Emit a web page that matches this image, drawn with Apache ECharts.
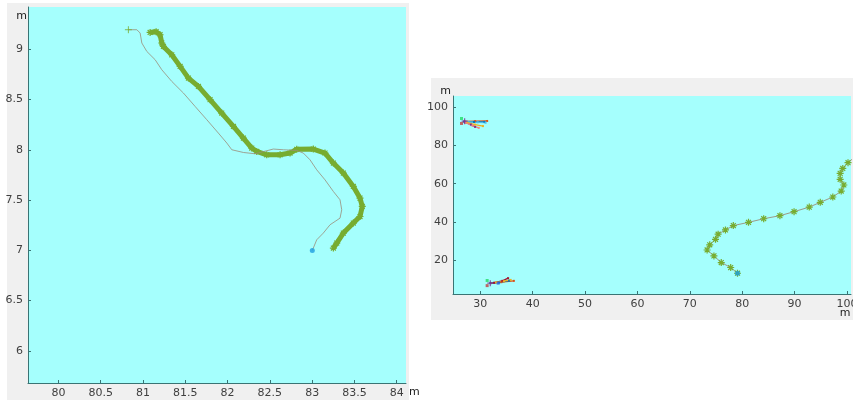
<!DOCTYPE html>
<html>
<head>
<meta charset="utf-8">
<script src="https://cdn.jsdelivr.net/npm/echarts@6/dist/echarts.min.js"></script>
<style>
  html, body { margin: 0; padding: 0; background: #ffffff; }
  #chart { width: 853px; height: 403px; }
</style>
</head>
<body>
<div id="chart"></div>
<script>
// ---- Left view: close-up of the two tracks (metres) ----
const leftXTicks = [80, 80.5, 81, 81.5, 82, 82.5, 83, 83.5, 84];
const leftYTicks = [6, 6.5, 7, 7.5, 8, 8.5, 9];

// estimated track (green asterisks)
const leftEstimate = [
  [81.084, 9.167], [81.155, 9.174], [81.202, 9.144], [81.222, 9.062], [81.241, 9.028],
  [81.340, 8.945], [81.439, 8.829], [81.537, 8.713], [81.655, 8.630], [81.793, 8.498],
  [81.931, 8.365], [82.069, 8.232], [82.187, 8.116], [82.286, 8.017], [82.345, 7.983],
  [82.463, 7.950], [82.621, 7.950], [82.739, 7.967], [82.818, 8.005], [83.014, 8.007],
  [83.152, 7.967], [83.251, 7.868], [83.369, 7.768], [83.487, 7.635], [83.566, 7.519],
  [83.593, 7.436], [83.566, 7.336], [83.487, 7.271], [83.369, 7.171], [83.291, 7.072],
  [83.251, 7.022]
];

// reference track (thin line)
const leftTrue = [
  [80.827, 9.194], [80.927, 9.194], [80.966, 9.161], [80.986, 9.062], [81.045, 8.978],
  [81.143, 8.896], [81.222, 8.796], [81.340, 8.680], [81.478, 8.564], [81.616, 8.431],
  [81.754, 8.299], [81.891, 8.166], [81.991, 8.067], [82.050, 8.000], [82.187, 7.973],
  [82.325, 7.960], [82.541, 8.007], [82.660, 8.000], [82.818, 7.993], [82.896, 7.967],
  [82.975, 7.900], [83.054, 7.801], [83.152, 7.701], [83.251, 7.585], [83.330, 7.502],
  [83.350, 7.403], [83.330, 7.320], [83.271, 7.287], [83.212, 7.254], [83.132, 7.171],
  [83.054, 7.104], [83.014, 7.022], [83.002, 6.998]
];
const leftStart = [[80.827, 9.194]];
const leftEnd = [[83.002, 6.998]];

// ---- Right view: whole area (metres) ----
const rightXTicks = [30, 40, 50, 60, 70, 80, 90, 100];
const rightYTicks = [20, 40, 60, 80, 100];

const rightTrack = [
  [101.5, 74.0], [100.2, 71.0], [99.2, 68.0], [98.7, 65.4], [98.7, 62.3], [99.4, 59.3],
  [98.9, 56.1], [97.3, 53.0], [94.9, 50.2], [92.8, 47.7], [89.9, 45.3], [87.2, 43.2],
  [84.1, 41.6], [81.2, 39.7], [78.3, 38.0], [76.8, 35.7], [75.4, 33.5], [74.9, 30.8],
  [73.8, 27.9], [73.3, 25.2], [74.6, 22.1], [76.0, 18.6], [77.8, 16.0], [79.1, 13.0]
];
const rightEnd = [[79.1, 13.0]];

// small groups of short tracks near the left edge
const topGroup = [
  { color: '#d95319', pts: [[27.0, 92.7], [29.0, 92.8], [31.3, 92.9]] },
  { color: '#0072bd', pts: [[26.9, 92.6], [28.8, 92.4], [30.8, 92.4]] },
  { color: '#4dbeee', pts: [[27.3, 92.5], [29.5, 92.2], [31.0, 92.0]] },
  { color: '#7e2f8e', pts: [[27.0, 92.3], [28.2, 91.0], [29.0, 89.8]] },
  { color: '#edb120', pts: [[27.4, 92.1], [29.0, 91.0], [30.5, 90.2]] },
  { color: '#f08080', pts: [[27.2, 92.0], [28.5, 90.5], [29.7, 89.3]] }
];
const topMarks = [
  { color: '#22dd66', pt: [26.4, 94.2] },
  { color: '#c04040', pt: [26.4, 91.6] }
];
const topStart = [[27.0, 92.8]];

const bottomGroup = [
  { color: '#d95319', pts: [[32.0, 7.8], [34.0, 8.3], [36.4, 9.0]] },
  { color: '#0072bd', pts: [[31.9, 7.8], [33.6, 8.1], [35.5, 9.1]] },
  { color: '#a2142f', pts: [[32.6, 8.0], [34.2, 9.0], [35.3, 10.4]] },
  { color: '#edb120', pts: [[33.0, 8.2], [34.5, 8.8], [35.8, 9.5]] }
];
const bottomMarks = [
  { color: '#22dd66', pt: [31.3, 9.2] },
  { color: '#c04040', pt: [31.3, 6.5] },
  { color: '#3060e0', pt: [33.4, 7.8] }
];
const bottomStart = [[31.9, 7.8]];

// ---- styles ----
const CYAN = '#a5fffd';
const PANEL = '#f0f0f0';
const AXIS = '#3a7474';
const TXT = '#404040';
const GREEN = '#77ac30';
const THIN = '#9a8d78';
const BLUE = '#1e9fe0';
const STAR = 'path://M5,0L5,10M0,5L10,5M1.5,1.5L8.5,8.5M8.5,1.5L1.5,8.5';
const PLUS = 'path://M5,0L5,10M0,5L10,5';
const FONT = 'DejaVu Sans';

function axisCommon(ticks) {
  return {
    nameMoveOverlap: false,
    axisLine: { show: true, onZero: false, lineStyle: { color: AXIS, width: 1 } },
    axisTick: { show: true, inside: true, length: 3, lineStyle: { color: AXIS }, customValues: ticks },
    axisLabel: { color: TXT, fontSize: 11, fontFamily: FONT, margin: 5, customValues: ticks },
    splitLine: { show: false }
  };
}

const series = [];

// left view
series.push({
  type: 'line', xAxisIndex: 0, yAxisIndex: 0, data: leftEstimate,
  lineStyle: { color: GREEN, width: 5 }, symbol: STAR, symbolSize: 7,
  itemStyle: { color: GREEN, borderColor: GREEN, borderWidth: 1.2 },
  animation: false, z: 2
});
series.push({
  type: 'line', xAxisIndex: 0, yAxisIndex: 0, data: leftTrue,
  lineStyle: { color: THIN, width: 0.8 }, showSymbol: false, symbol: 'none',
  animation: false, z: 3
});
series.push({
  type: 'scatter', xAxisIndex: 0, yAxisIndex: 0, data: leftStart,
  symbol: PLUS, symbolSize: 7,
  itemStyle: { color: GREEN, borderColor: GREEN, borderWidth: 1 }, animation: false, z: 4
});
series.push({
  type: 'scatter', xAxisIndex: 0, yAxisIndex: 0, data: leftEnd,
  symbol: 'circle', symbolSize: 5, itemStyle: { color: BLUE }, animation: false, z: 4
});

// right view
series.push({
  type: 'line', xAxisIndex: 1, yAxisIndex: 1, data: rightTrack,
  lineStyle: { color: THIN, width: 0.9 }, symbol: STAR, symbolSize: 7,
  itemStyle: { color: GREEN, borderColor: GREEN, borderWidth: 1.2 },
  animation: false, z: 2
});
series.push({
  type: 'scatter', xAxisIndex: 1, yAxisIndex: 1, data: rightEnd,
  symbol: 'circle', symbolSize: 5, itemStyle: { color: BLUE }, animation: false, z: 4
});
[topGroup, bottomGroup].forEach(function (group) {
  group.forEach(function (g) {
    series.push({
      type: 'line', xAxisIndex: 1, yAxisIndex: 1, data: g.pts,
      lineStyle: { color: g.color, width: 1.3 }, symbol: 'rect', symbolSize: 2,
      itemStyle: { color: g.color }, animation: false, z: 3
    });
  });
});
[topMarks, bottomMarks].forEach(function (marks) {
  marks.forEach(function (m) {
    series.push({
      type: 'scatter', xAxisIndex: 1, yAxisIndex: 1, data: [m.pt],
      symbol: 'rect', symbolSize: 3, itemStyle: { color: m.color }, animation: false, z: 4
    });
  });
});
[topStart, bottomStart].forEach(function (s) {
  series.push({
    type: 'scatter', xAxisIndex: 1, yAxisIndex: 1, data: s,
    symbol: PLUS, symbolSize: 6,
    itemStyle: { color: '#7e2f8e', borderColor: '#7e2f8e', borderWidth: 1.2 }, animation: false, z: 5
  });
});

const chart = echarts.init(document.getElementById('chart'), null, { renderer: 'canvas' });
chart.setOption({
  backgroundColor: '#ffffff',
  animation: false,
  graphic: [
    { type: 'rect', shape: { x: 7, y: 3, width: 402, height: 397 }, style: { fill: PANEL }, z: -10, silent: true },
    { type: 'rect', shape: { x: 431, y: 78, width: 422, height: 242 }, style: { fill: PANEL }, z: -10, silent: true }
  ],
  grid: [
    { left: 28, top: 7, width: 378, height: 376, show: true, backgroundColor: CYAN, borderWidth: 0,
      containLabel: false, outerBoundsMode: 'none' },
    { left: 453, top: 96, width: 398, height: 198, show: true, backgroundColor: CYAN, borderWidth: 0,
      containLabel: false, outerBoundsMode: 'none' }
  ],
  xAxis: [
    Object.assign({
      type: 'value', gridIndex: 0, min: 79.64, max: 84.11,
      name: 'm', nameLocation: 'end', nameGap: 3,
      nameTextStyle: { color: '#202020', fontSize: 11, fontFamily: FONT, align: 'left', verticalAlign: 'top', padding: [4, 0, 0, 0] }
    }, axisCommon(leftXTicks)),
    Object.assign({
      type: 'value', gridIndex: 1, min: 24.78, max: 100.77,
      name: 'm', nameLocation: 'end', nameGap: -6,
      nameTextStyle: { color: '#202020', fontSize: 11, fontFamily: FONT, align: 'center', verticalAlign: 'top', padding: [14, 0, 0, 0] }
    }, axisCommon(rightXTicks))
  ],
  yAxis: [
    Object.assign({
      type: 'value', gridIndex: 0, min: 5.68, max: 9.42,
      name: 'm', nameLocation: 'end', nameGap: -9,
      nameTextStyle: { color: '#202020', fontSize: 11, fontFamily: FONT, align: 'right', verticalAlign: 'middle', padding: [0, 1, 0, 0] }
    }, axisCommon(leftYTicks)),
    Object.assign({
      type: 'value', gridIndex: 1, min: 2.1, max: 106.0,
      name: 'm', nameLocation: 'end', nameGap: -1,
      nameTextStyle: { color: '#202020', fontSize: 11, fontFamily: FONT, align: 'right', verticalAlign: 'bottom', padding: [0, 2, 0, 0] }
    }, axisCommon(rightYTicks))
  ],
  series: series
});
</script>
</body>
</html>
